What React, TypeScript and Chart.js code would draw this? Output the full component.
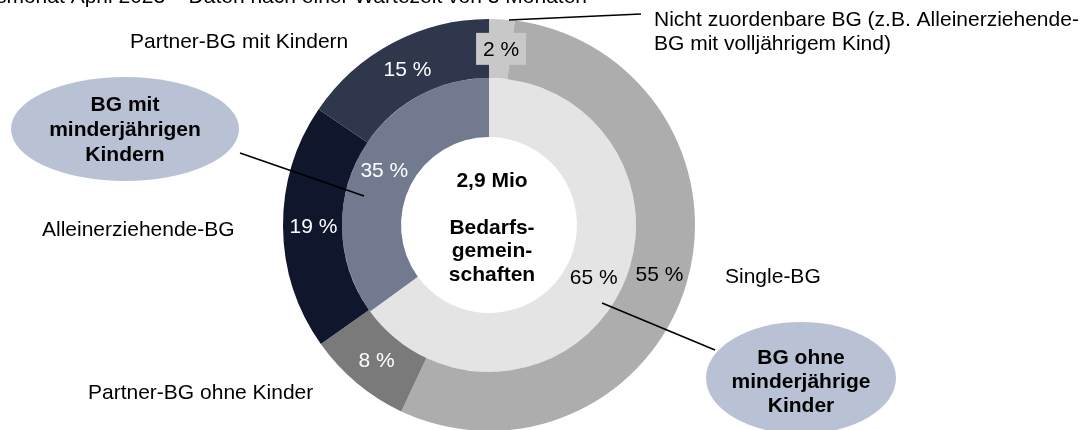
import React, { useEffect, useRef } from "react";
import { Chart, registerables } from "chart.js";

Chart.register(...registerables);

// ---- data ----
const outerCategories = [
  "Nicht zuordenbare BG",
  "Single-BG",
  "Partner-BG ohne Kinder",
  "Alleinerziehende-BG",
  "Partner-BG mit Kindern",
];
const outerValues = [2, 55, 8.2, 19.3, 15.5];
const outerValueLabels = ["2 %", "55 %", "8 %", "19 %", "15 %"];

const innerCategories = ["BG ohne minderjährige Kinder", "BG mit minderjährigen Kindern"];
const innerValues = [65, 35];
const innerValueLabels = ["65 %", "35 %"];

const titleText = "Berichtsmonat April 2023 – Daten nach einer Wartezeit von 3 Monaten";
const centerTotal = "2,9 Mio";
const centerLines = ["Bedarfs-", "gemein-", "schaften"];
const leftBubbleLines = ["BG mit", "minderjährigen", "Kindern"];
const rightBubbleLines = ["BG ohne", "minderjährige", "Kinder"];
const outerNameLines = [
  ["Nicht zuordenbare BG (z.B. Alleinerziehende-", "BG mit volljährigem Kind)"],
  ["Single-BG"],
  ["Partner-BG ohne Kinder"],
  ["Alleinerziehende-BG"],
  ["Partner-BG mit Kindern"],
];

// ---- styles ----
const outerColors = ["#c8c8c8", "#adadad", "#7a7a7a", "#10162b", "#2f374d"];
const innerColors = ["#e4e4e4", "#717a8f"];
const outerTextColors = ["#000", "#000", "#fff", "#fff", "#fff"];
const innerTextColors = ["#000", "#fff"];
const bubbleColor = "#b9c1d5";
const FONT = "'Liberation Sans', Arial, Helvetica, sans-serif";

const W = 1092;
const H = 440;

const annotationPlugin = {
  id: "annotations",
  afterDatasetsDraw(chart: any) {
    const ctx = chart.ctx as CanvasRenderingContext2D;
    const outerMeta = chart.getDatasetMeta(0);
    const innerMeta = chart.getDatasetMeta(1);
    ctx.save();

    // title (clipped at top)
    ctx.fillStyle = "#000";
    ctx.font = `21px ${FONT}`;
    ctx.textAlign = "right";
    ctx.textBaseline = "alphabetic";
    ctx.fillText(titleText, 587, 3);

    // connector lines
    ctx.strokeStyle = "#000";
    ctx.lineWidth = 1.6;
    const line = (x1: number, y1: number, x2: number, y2: number) => {
      ctx.beginPath();
      ctx.moveTo(x1, y1);
      ctx.lineTo(x2, y2);
      ctx.stroke();
    };
    line(509, 20, 641, 14);
    line(240, 153, 364, 196);
    line(602, 303, 715, 350);

    // bubbles
    ctx.fillStyle = bubbleColor;
    ctx.beginPath();
    ctx.ellipse(125, 129, 114, 52, 0, 0, Math.PI * 2);
    ctx.fill();
    ctx.beginPath();
    ctx.ellipse(801, 378, 95, 56, 0, 0, Math.PI * 2);
    ctx.fill();

    ctx.fillStyle = "#000";
    ctx.font = `bold 21px ${FONT}`;
    ctx.textAlign = "center";
    ctx.textBaseline = "middle";
    leftBubbleLines.forEach((t, i) => ctx.fillText(t, 125, 105 + i * 25));
    rightBubbleLines.forEach((t, i) => ctx.fillText(t, 801, 358 + i * 24));

    // center text
    ctx.fillText(centerTotal, 492, 181);
    centerLines.forEach((t, i) => ctx.fillText(t, 492, 228 + i * 23.5));

    // category names
    ctx.font = `21px ${FONT}`;
    ctx.textAlign = "left";
    ctx.fillText(outerNameLines[0][0], 654, 20);
    ctx.fillText(outerNameLines[0][1], 654, 44);
    ctx.fillText(outerNameLines[1][0], 725, 277);
    ctx.fillText(outerNameLines[2][0], 88, 393);
    ctx.fillText(outerNameLines[3][0], 42, 230);
    ctx.fillText(outerNameLines[4][0], 130, 42);

    // value labels
    ctx.textAlign = "center";
    outerMeta.data.forEach((arc: any, i: number) => {
      const p = arc.tooltipPosition();
      if (i === 0) {
        ctx.fillStyle = outerColors[0];
        ctx.fillRect(p.x - 24, p.y - 16, 50, 32);
      }
      ctx.fillStyle = outerTextColors[i];
      ctx.fillText(outerValueLabels[i], p.x + 1, p.y + 1);
    });
    innerMeta.data.forEach((arc: any, i: number) => {
      const p = arc.tooltipPosition();
      ctx.fillStyle = innerTextColors[i];
      ctx.fillText(innerValueLabels[i], p.x, p.y);
    });

    ctx.restore();
  },
};

export default function App() {
  const canvasRef = useRef<HTMLCanvasElement | null>(null);

  useEffect(() => {
    const canvas = canvasRef.current;
    if (!canvas) return;
    const chart = new Chart(canvas, {
      type: "doughnut",
      data: {
        labels: outerCategories,
        datasets: [
          {
            label: "Typ",
            data: outerValues,
            backgroundColor: outerColors,
            borderWidth: 0,
          },
          {
            label: "Kinder",
            data: innerValues,
            backgroundColor: innerColors,
            borderWidth: 0,
          },
        ],
      },
      options: {
        responsive: false,
        animation: false,
        devicePixelRatio: 1,
        cutout: "42.7%",
        layout: {
          padding: { top: 19, bottom: H - 431, left: 283, right: W - 695 },
        },
        plugins: {
          legend: { display: false },
          tooltip: { enabled: false },
          title: { display: false },
        },
      },
      plugins: [annotationPlugin],
    });
    return () => chart.destroy();
  }, []);

  return (
    <div style={{ position: "fixed", left: 0, top: 0, width: W, height: H, background: "#fff" }}>
      <canvas ref={canvasRef} width={W} height={H} style={{ display: "block" }} />
    </div>
  );
}
